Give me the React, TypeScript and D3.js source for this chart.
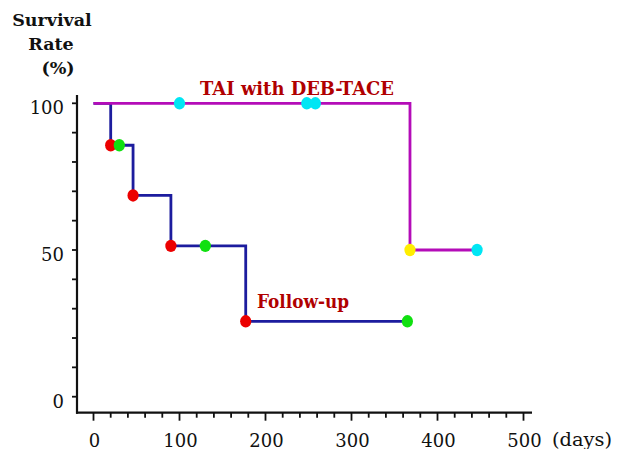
import React, { useRef, useEffect } from "react";
import * as d3 from "d3";

// Kaplan-Meier step curves
const followUpDays = [0, 20, 46, 90, 177, 365];
const followUpRates = [100, 85.7, 68.6, 51.4, 25.7, 25.7];
const followUpDeathDays = [20, 46, 90, 177];
const followUpDeathRates = [85.7, 68.6, 51.4, 25.7];
const followUpCensorDays = [30, 130, 365];
const followUpCensorRates = [85.7, 51.4, 25.7];

const debDays = [0, 368, 446];
const debRates = [100, 50, 50];
const debCensorDays = [100, 248, 258, 446];
const debCensorRates = [100, 100, 100, 50];
const debDeathDays = [368];
const debDeathRates = [50];

const xTickLabels = [0, 100, 200, 300, 400, 500];
const yTickLabels = [0, 50, 100];

const W = 617;
const H = 449;
const FONT = "'DejaVu Serif', serif";

const App = () => {
  const ref = useRef(null);

  useEffect(() => {
    const svg = d3.select(ref.current);
    svg.selectAll("*").remove();

    const x = d3.scaleLinear().domain([0, 500]).range([93.5, 523.5]);
    const y = d3.scaleLinear().domain([0, 100]).range([396.7, 103.3]);

    const axisX = 77;
    const axisY = 412.7;

    // axes lines
    svg.append("line")
      .attr("x1", axisX).attr("x2", axisX)
      .attr("y1", 95).attr("y2", axisY + 1)
      .attr("stroke", "#111").attr("stroke-width", 2.2);
    svg.append("line")
      .attr("x1", axisX - 1).attr("x2", 532)
      .attr("y1", axisY).attr("y2", axisY)
      .attr("stroke", "#111").attr("stroke-width", 2.2);

    // y ticks every 10%
    svg.append("g").selectAll("line")
      .data(d3.range(0, 101, 10))
      .join("line")
      .attr("x1", axisX - 5).attr("x2", axisX)
      .attr("y1", (d) => y(d)).attr("y2", (d) => y(d))
      .attr("stroke", "#111").attr("stroke-width", 1.8);

    svg.append("g").selectAll("text")
      .data(yTickLabels)
      .join("text")
      .attr("x", 64)
      .attr("y", (d) => y(d) + 11)
      .attr("text-anchor", "end")
      .attr("font-family", FONT)
      .attr("font-size", 18)
      .attr("fill", "#111")
      .text((d) => d);

    // x ticks every 20 days
    svg.append("g").selectAll("line")
      .data(d3.range(0, 501, 20))
      .join("line")
      .attr("x1", (d) => x(d)).attr("x2", (d) => x(d))
      .attr("y1", axisY)
      .attr("y2", (d) => axisY + (d % 100 === 0 ? 8 : 5))
      .attr("stroke", "#111").attr("stroke-width", 1.8);

    svg.append("g").selectAll("text")
      .data(xTickLabels)
      .join("text")
      .attr("x", (d) => x(d) + 1)
      .attr("y", 446.5)
      .attr("text-anchor", "middle")
      .attr("font-family", FONT)
      .attr("font-size", 18)
      .attr("fill", "#111")
      .text((d) => d);

    svg.append("text")
      .attr("x", 552).attr("y", 446)
      .attr("textLength", 60).attr("lengthAdjust", "spacingAndGlyphs")
      .attr("font-family", FONT).attr("font-size", 18)
      .attr("fill", "#111")
      .text("(days)");

    // y title
    const yTitle = [
      { t: "Survival", cx: 52, by: 26 },
      { t: "Rate", cx: 51, by: 50 },
      { t: "(%)", cx: 58, by: 74 },
    ];
    svg.append("g").selectAll("text")
      .data(yTitle)
      .join("text")
      .attr("x", (d) => d.cx)
      .attr("y", (d) => d.by)
      .attr("text-anchor", "middle")
      .attr("font-family", FONT)
      .attr("font-weight", "bold")
      .attr("font-size", 17.5)
      .attr("fill", "#111")
      .text((d) => d.t);

    // curves
    const line = d3.line<number>()
      .x((d: any) => x(d[0]))
      .y((d: any) => y(d[1]))
      .curve(d3.curveStepAfter);

    const followUp = followUpDays.map((d, i) => [d, followUpRates[i]]);
    const deb = debDays.map((d, i) => [d, debRates[i]]);

    svg.append("path")
      .attr("d", line(followUp as any))
      .attr("fill", "none")
      .attr("stroke", "#1c1c9e")
      .attr("stroke-width", 2.8);

    svg.append("path")
      .attr("d", line(deb as any))
      .attr("fill", "none")
      .attr("stroke", "#b40cb8")
      .attr("stroke-width", 2.8);

    const dots = (days: number[], rates: number[], color: string) => {
      svg.append("g").selectAll("ellipse")
        .data(days.map((d, i) => [d, rates[i]]))
        .join("ellipse")
        .attr("cx", (d) => x(d[0]))
        .attr("cy", (d) => y(d[1]))
        .attr("rx", 5.6)
        .attr("ry", 6.2)
        .attr("fill", color);
    };

    dots(followUpDeathDays, followUpDeathRates, "#ec0000");
    dots(followUpCensorDays, followUpCensorRates, "#10e010");
    dots(debCensorDays, debCensorRates, "#00e6f4");
    dots(debDeathDays, debDeathRates, "#ffee00");

    // series labels
    svg.append("text")
      .attr("x", 200).attr("y", 95)
      .attr("textLength", 194).attr("lengthAdjust", "spacingAndGlyphs")
      .attr("font-family", FONT).attr("font-weight", "bold")
      .attr("font-size", 19)
      .attr("fill", "#b00000")
      .text("TAI with DEB-TACE");

    svg.append("text")
      .attr("x", 257).attr("y", 308)
      .attr("textLength", 92).attr("lengthAdjust", "spacingAndGlyphs")
      .attr("font-family", FONT).attr("font-weight", "bold")
      .attr("font-size", 18)
      .attr("fill", "#b00000")
      .text("Follow-up");

    return () => undefined;
  }, []);

  return (
    <svg
      ref={ref}
      width={W}
      height={H}
      style={{ position: "absolute", left: 0, top: 0, background: "#fff" }}
    />
  );
};

export default App;
